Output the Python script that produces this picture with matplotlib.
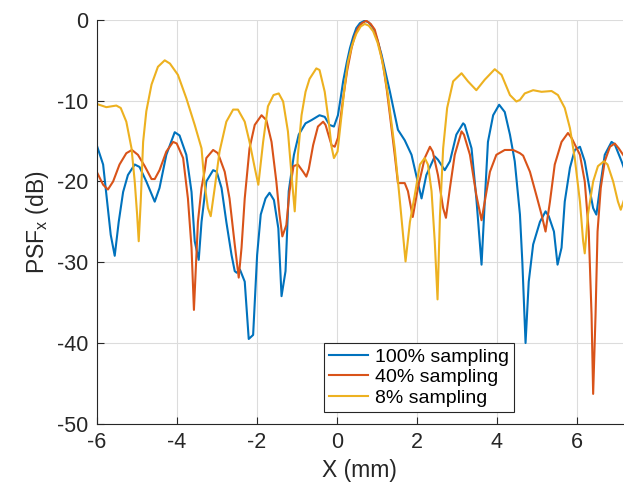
import matplotlib
matplotlib.use("Agg")
import matplotlib.pyplot as plt

plt.rcParams['font.family'] = ['Liberation Sans', 'DejaVu Sans']
plt.rcParams['mathtext.fontset'] = 'custom'
plt.rcParams['mathtext.rm'] = 'Liberation Sans'
plt.rcParams['mathtext.it'] = 'Liberation Sans'
plt.rcParams['axes.unicode_minus'] = False

# 100% sampling
x100 = [-6.0, -5.84, -5.65, -5.55, -5.45, -5.34, -5.22, -5.05, -4.93, -4.76, -4.55, -4.43, -4.26,
        -4.05, -3.93, -3.76, -3.63, -3.55, -3.45, -3.38, -3.3, -3.26, -3.09, -3.0, -2.88, -2.76,
        -2.63, -2.55, -2.5, -2.42, -2.3, -2.2, -2.09, -1.99, -1.9, -1.78, -1.68, -1.57, -1.46,
        -1.38, -1.28, -1.2, -1.07, -0.95, -0.78, -0.63, -0.43, -0.3, -0.18, -0.07, 0.03, 0.1, 0.16,
        0.25, 0.33, 0.41, 0.49, 0.58, 0.7, 0.8, 0.91, 1.01, 1.12, 1.22, 1.33, 1.53, 1.7, 1.87, 2.0,
        2.12, 2.24, 2.45, 2.53, 2.7,
        2.83, 2.99, 3.16, 3.2, 3.37, 3.49, 3.62, 3.7, 3.78, 3.91, 4.06, 4.2, 4.33, 4.45, 4.58,
        4.64, 4.72, 4.8, 4.91, 5.08, 5.22, 5.3, 5.43, 5.52, 5.62, 5.7, 5.83, 5.95, 6.08, 6.2,
        6.33, 6.41, 6.49, 6.58, 6.7, 6.87, 6.95, 7.12, 7.2]
y100 = [-15.5, -17.9, -26.6, -29.2, -25, -21.3, -19.2, -17.9, -18.2, -20.0, -22.5, -20.8, -16.7,
        -13.9, -14.3, -16.7, -21.3, -27.4, -29.7, -25, -21.7, -20.0, -18.6, -18.8, -20.8, -25,
        -29.1, -31.1, -31.3, -30.9, -32.4, -39.5, -39.0, -29.1, -24.1, -22.1, -21.4, -22.3, -25.8,
        -34.2, -31.1, -21.2, -16.7, -14.2, -12.8, -12.4, -11.8, -12.0, -13.0, -13.2, -11.8, -9.6, -7.6,
        -5.3, -3.5, -2.1, -1.0, -0.4, -0.1, -0.3, -1.0, -2.4, -4.3, -6.5, -8.9, -13.6, -14.9, -16.7, -19.5,
        -22.1, -19.2, -16.9, -17.3, -18.6,
        -17.5, -14.2, -12.8, -13.0, -15.9, -22.1, -30.3, -22.5, -15.1, -11.8, -10.5, -11.4, -14.2, -17.5, -24.1,
        -30.0, -40.0, -32.4, -27.8, -25, -23.7, -24.3, -26.2, -30.3, -28.2, -22.5, -18.3, -16.1, -15.7, -17.5,
        -21.2, -23.3, -24.1, -20.8, -16.7, -15.1, -15.4, -17.5, -18.6]

# 40% sampling
x40 = [-6.0, -5.84, -5.72, -5.59, -5.43, -5.26, -5.12, -4.97, -4.8, -4.63, -4.55, -4.43, -4.26,
       -4.09, -4.0, -3.84, -3.72, -3.63, -3.57, -3.47, -3.38, -3.3, -3.26, -3.09, -2.97, -2.8,
       -2.68, -2.55, -2.45, -2.38, -2.3, -2.18, -2.05, -1.88, -1.76, -1.63, -1.51, -1.43, -1.36,
       -1.26, -1.18, -1.08, -0.97, -0.84, -0.76, -0.7, -0.59, -0.47, -0.34, -0.28, -0.13, -0.05,
       0.03, 0.16, 0.26, 0.37, 0.45, 0.53, 0.63, 0.74, 0.85, 0.95, 1.05, 1.16, 1.25, 1.33, 1.45,
       1.53, 1.7, 1.78, 1.9, 2.03, 2.2,
       2.33, 2.4, 2.53, 2.66, 2.73, 2.83, 2.95, 3.12, 3.18, 3.33, 3.49, 3.62, 3.7, 3.83, 3.99,
       4.2, 4.41, 4.58, 4.66, 4.83, 4.99, 5.12, 5.22, 5.33, 5.45, 5.62, 5.78, 5.87, 6.08, 6.2,
       6.3, 6.37, 6.41, 6.47, 6.52, 6.6, 6.7, 6.83, 6.95, 7.05, 7.2]
y40 = [-18.8, -20.4, -21.0, -20.0, -17.9, -16.5, -16.1, -16.7, -18.1, -19.7, -19.7, -18.6, -16.3,
       -15.1, -15.3, -17.1, -22.1, -28.2, -35.9, -25, -20.8, -18.6, -17.1, -16.1, -16.5, -18.8,
       -22.1, -27.8, -31.9, -28.2, -22.1, -15.9, -13.0, -11.8, -12.4, -15.1, -20.0, -24.1, -26.8,
       -25.4, -21.2, -18.1, -17.9, -18.8, -19.4, -18.5, -15.5, -13.2, -12.6, -13.0, -15.5, -15.7,
       -14.6, -9.7, -6.3, -3.5, -2.0, -1.0, -0.4, -0.1, -0.5, -1.2, -3.0, -5.6, -8.6, -11.8, -16.7,
       -20.2, -20.2, -21.2, -24.4, -20.8, -17.1,
       -15.7, -16.3, -19.2, -23.3, -24.5, -20.8, -16.7, -13.8, -14.2, -16.7, -21.7, -24.8, -22.5, -18.8, -16.7,
       -16.1, -16.1, -16.5, -16.8, -18.8, -21.7, -24.1, -26.2, -22.5, -17.9, -15.1, -14.0, -14.6, -16.7, -20.0,
       -26.2, -36.5, -46.3, -36.5, -26.2, -20.8, -17.5, -15.7, -15.3, -15.9, -17.0]

# 8% sampling
x8 = [-6.0, -5.76, -5.51, -5.4, -5.26, -5.13, -5.05, -4.99, -4.95, -4.9, -4.84, -4.76, -4.63,
      -4.47, -4.3, -4.17, -3.97, -3.76, -3.55, -3.38, -3.3, -3.22, -3.15, -3.05, -2.93, -2.76,
      -2.59, -2.47, -2.3, -2.18, -2.05, -1.96, -1.84, -1.72, -1.58, -1.45, -1.34, -1.22, -1.13,
      -1.05, -0.97, -0.88, -0.78, -0.68, -0.51, -0.43, -0.3, -0.2, -0.13, -0.07, 0.02, 0.12,
      0.2, 0.28, 0.38, 0.49, 0.6, 0.7, 0.8, 0.91, 1.02, 1.12, 1.2, 1.28, 1.45, 1.58, 1.72, 1.83,
      1.95, 2.08, 2.2, 2.28, 2.37,
      2.45, 2.52, 2.58, 2.66, 2.76, 2.91, 3.12, 3.28, 3.49, 3.7, 3.95, 4.12, 4.33, 4.49, 4.58,
      4.7, 4.91, 5.12, 5.37, 5.53, 5.7, 5.83, 5.95, 6.08, 6.16, 6.2, 6.28, 6.41, 6.53, 6.68,
      6.77, 6.91, 7.03, 7.1, 7.2]
y8 = [-10.4, -10.8, -10.6, -10.9, -12.6, -15.9, -20.0, -24.1, -27.4, -22.5, -15.1, -11.3, -8.0,
      -5.8, -5.0, -5.4, -6.8, -9.7, -13.0, -15.9, -20.5, -23.3, -24.3, -20.8, -16.3, -12.6,
      -11.1, -11.1, -12.6, -15.1, -18.3, -20.4, -15.1, -10.7, -9.3, -9.1, -10.1, -13.8, -19.2,
      -23.7, -16.7, -11.8, -8.9, -7.3, -6.0, -6.2, -8.9, -12.6, -15.7, -17.1, -16.3, -11.8,
      -8.2, -5.2, -3.2, -1.7, -0.8, -0.5, -0.7, -1.4, -2.8, -4.7, -6.8, -9.3, -15.9, -22.5, -29.9, -25,
      -21.7, -17.9, -17.1, -17.9, -21.2,
      -27.4, -34.6, -24.3, -15.9, -10.9, -7.6, -6.6, -7.6, -8.7, -7.4, -6.1, -6.8, -9.3, -10.1, -9.9,
      -9.1, -8.7, -8.9, -8.8, -9.3, -10.9, -13.4, -17.1, -22.5, -27.4, -28.9, -24.1, -20.0, -18.1, -17.5,
      -17.9, -20.0, -22.5, -23.5, -22.0]

labels = ['100% sampling', '40% sampling', '8% sampling']
colors = ['#0072BD', '#D95319', '#EDB120']

fig = plt.figure(figsize=(6.24, 4.86), dpi=100)
ax = fig.add_axes([0.155, 0.128, 0.843, 0.831])

ax.plot(x100, y100, color=colors[0], lw=1.5, label=labels[0])
ax.plot(x40, y40, color=colors[1], lw=1.5, label=labels[1])
ax.plot(x8, y8, color=colors[2], lw=1.5, label=labels[2])

ax.set_xlim(-6, 7.15)
ax.set_ylim(-50, 0)
ax.set_xticks([-6, -4, -2, 0, 2, 4, 6])
ax.set_yticks([-50, -40, -30, -20, -10, 0])
ax.grid(True, color='#dcdcdc', lw=0.8)
ax.set_axisbelow(True)
for s in ['top', 'right']:
    ax.spines[s].set_visible(False)
for s in ['left', 'bottom']:
    ax.spines[s].set_color('#262626')
ax.tick_params(direction='in', length=5, colors='#262626', labelsize=15.5, pad=6)

ax.set_xlabel('X (mm)', fontsize=16.5, color='#262626')
ax.set_ylabel('PSF$_\\mathrm{x}$ (dB)', fontsize=16.5, color='#262626')

leg = ax.legend(loc='lower left', bbox_to_anchor=(0.432, 0.03, 0.361, 0.2), mode='expand',
                fontsize=14, fancybox=False, framealpha=1, edgecolor='#262626',
                handlelength=2.0, handletextpad=0.4, borderpad=0.25, labelspacing=0.15,
                borderaxespad=0)
leg.get_frame().set_linewidth(0.8)

fig.savefig('out.png')
